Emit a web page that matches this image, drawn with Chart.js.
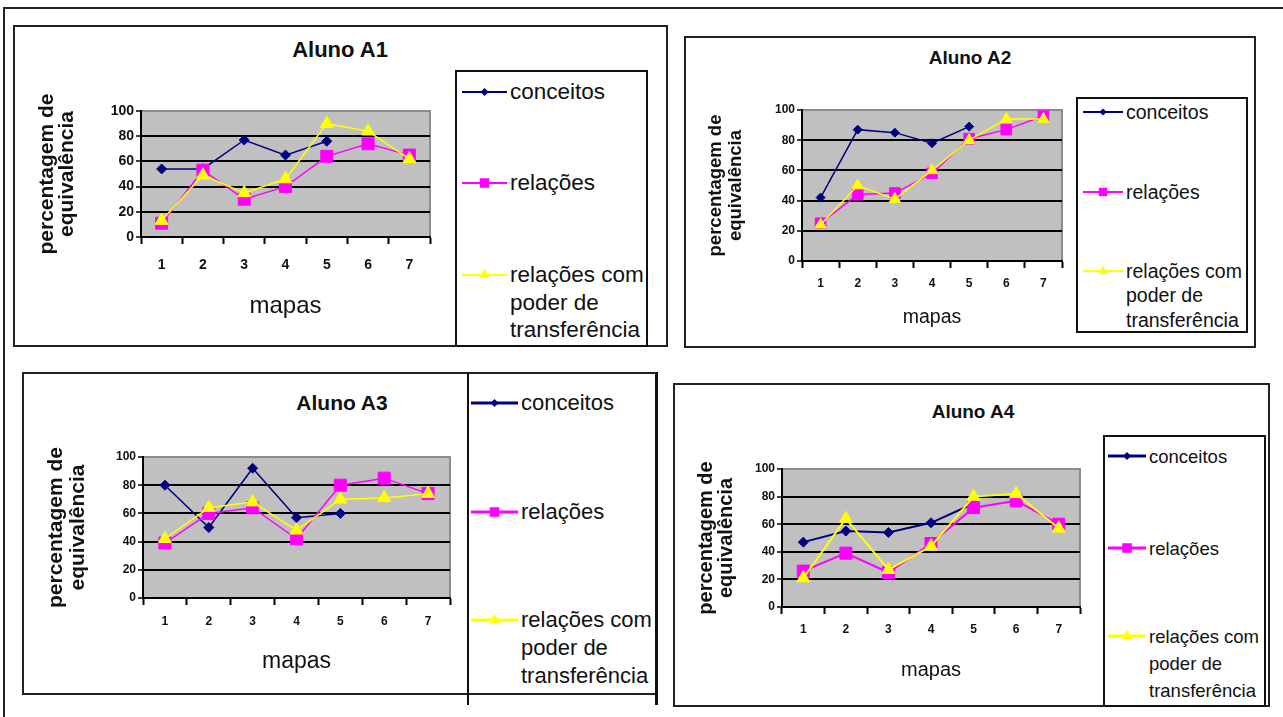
<!DOCTYPE html>
<html lang="pt">
<head>
<meta charset="UTF-8">
<title>Alunos A1-A4</title>
<style>
  body { margin: 0; width: 1283px; height: 717px; background: #fff; position: relative; overflow: hidden;
         font-family: "Liberation Sans", Arial, sans-serif; color: #111; }
  .box { position: absolute; border: 2px solid #222; box-sizing: border-box; }
  .ttl { position: absolute; font-weight: bold; transform: translate(-50%, -50%); white-space: nowrap; }
  .leg { position: absolute; border: 2px solid #111; box-sizing: border-box; background: #fff; }
  .item { position: absolute; white-space: nowrap; }
  .item svg { position: absolute; }
  .vline { position: absolute; background: #111; }
  canvas { position: absolute; }
</style>
</head>
<body>
<div class="box" style="left:3px; top:7px; width:1290px; height:720px;"></div>

<script src="https://cdn.jsdelivr.net/npm/chart.js"></script>
<script>
// data
const mapas = ['1', '2', '3', '4', '5', '6', '7'];
const yTicks = [0, 20, 40, 60, 80, 100];
const seriesNames = ['conceitos', 'relações', 'relações com poder de transferência'];

const a1Conceitos = [54, 54, 77, 65, 76, null, null];
const a1Relacoes = [11, 53, 30, 40, 64, 74, 65];
const a1Transf = [13, 49, 35, 46, 90, 84, 62];

const a2Conceitos = [42, 87, 85, 78, 89, null, null];
const a2Relacoes = [25, 44, 45, 58, 81, 87, 96];
const a2Transf = [24, 50, 41, 60, 80, 94, 94];

const a3Conceitos = [80, 50, 92, 57, 60, null, null];
const a3Relacoes = [39, 60, 64, 42, 80, 85, 74];
const a3Transf = [42, 64, 68, 48, 70, 71, 74];

const a4Conceitos = [47, 55, 54, 61, 75, null, null];
const a4Relacoes = [26, 39, 25, 46, 72, 77, 60];
const a4Transf = [21, 64, 27, 44, 80, 82, 57];

const colors = ['#000080', '#ff00ff', '#ffff00'];
const shapes = ['rectRot', 'rect', 'triangle'];

// layout of each panel (pixels)
const panels = [
  { title: 'Aluno A1', data: [a1Conceitos, a1Relacoes, a1Transf],
    box: [13, 25, 668, 347], titleAt: [340, 50], titleSize: 22,
    plot: [141, 111, 430, 237], yw: 104, xh: 86, tickSize: 14, tickPad: 20,
    axisSize: 21, axisLine: 20, mapasSize: 24,
    radius: [5, 8.5, 7.5], lw: 1.5,
    leg: [455, 70, 648, 347], legX: 462, iconW: 45, legY: [92, 183, 275], legSize: 22.5, legLine: 27.5, iconLw: 2 },
  { title: 'Aluno A2', data: [a2Conceitos, a2Relacoes, a2Transf],
    box: [684, 36, 1256, 348], titleAt: [970, 58], titleSize: 19,
    plot: [802, 110, 1062, 261], yw: 96, xh: 70, tickSize: 12, tickPad: 15,
    axisSize: 18.5, axisLine: 20, mapasSize: 19.5,
    radius: [4.5, 7.5, 6.5], lw: 1.5,
    leg: [1076, 97, 1248, 333], legX: 1083, iconW: 40, legY: [112, 192, 271], legSize: 19.5, legLine: 24.5, iconLw: 2 },
  { title: 'Aluno A3', data: [a3Conceitos, a3Relacoes, a3Transf],
    box: [22, 372, 658, 695], titleAt: [342, 403], titleSize: 21,
    plot: [143, 457, 450, 598], yw: 98, xh: 79, tickSize: 12, tickPad: 16,
    axisSize: 21, axisLine: 22, mapasSize: 23,
    radius: [5, 8.5, 7.5], lw: 1.5,
    leg: null, legX: 471, iconW: 47, legY: [403, 512, 620], legSize: 22, legLine: 28, iconLw: 3 },
  { title: 'Aluno A4', data: [a4Conceitos, a4Relacoes, a4Transf],
    box: [673, 383, 1270, 707], titleAt: [973, 412], titleSize: 19,
    plot: [782, 469, 1080, 607], yw: 86, xh: 77, tickSize: 12, tickPad: 15,
    axisSize: 20, axisLine: 20, mapasSize: 20,
    radius: [5, 8.5, 7.5], lw: 2,
    leg: [1103, 435, 1266, 707], legX: 1108, iconW: 38, legY: [456, 548, 636], legSize: 18.5, legLine: 27, iconLw: 3 }
];

const plotBg = {
  id: 'plotBg',
  beforeDraw(chart) {
    const a = chart.chartArea, c = chart.ctx;
    c.save();
    c.fillStyle = '#c0c0c0';
    c.fillRect(a.left, a.top, a.right - a.left, a.bottom - a.top);
    c.strokeStyle = '#8c8c8c';
    c.lineWidth = 2;
    c.beginPath();
    c.moveTo(a.left, a.top); c.lineTo(a.right, a.top); c.lineTo(a.right, a.bottom);
    c.stroke();
    c.restore();
  }
};

function add(tag, cls, css, html) {
  const el = document.createElement(tag);
  if (cls) el.className = cls;
  el.style.cssText = css;
  if (html !== undefined) el.innerHTML = html;
  document.body.appendChild(el);
  return el;
}

function icon(i, w, lw, r) {
  const h = 20, cy = 10, cx = w / 2;
  let mark = '';
  if (shapes[i] === 'rectRot') mark = `<polygon points="${cx - r},${cy} ${cx},${cy - r} ${cx + r},${cy} ${cx},${cy + r}" fill="${colors[i]}"/>`;
  if (shapes[i] === 'rect') mark = `<rect x="${cx - r * 0.7}" y="${cy - r * 0.7}" width="${r * 1.4}" height="${r * 1.4}" fill="${colors[i]}"/>`;
  if (shapes[i] === 'triangle') mark = `<polygon points="${cx},${cy - r} ${cx + r * 0.87},${cy + r / 2} ${cx - r * 0.87},${cy + r / 2}" fill="${colors[i]}"/>`;
  return `<svg width="${w}" height="${h}" style="left:0;top:${-h / 2}px"><line x1="0" y1="${cy}" x2="${w}" y2="${cy}" stroke="${colors[i]}" stroke-width="${lw}"/>${mark}</svg>`;
}

panels.forEach(p => {
  const [bl, bt, br, bb] = p.box;
  add('div', 'box', `left:${bl}px;top:${bt}px;width:${br - bl}px;height:${bb - bt}px;`);
  add('div', 'ttl', `left:${p.titleAt[0]}px;top:${p.titleAt[1]}px;font-size:${p.titleSize}px;`, p.title);

  if (p.leg) {
    const [ll, lt, lr, lb] = p.leg;
    add('div', 'leg', `left:${ll}px;top:${lt}px;width:${lr - ll}px;height:${lb - lt}px;`);
  } else {
    // A3: legend separated by a vertical rule
    add('div', 'vline', `left:467px;top:${bt}px;width:2px;height:${705 - bt}px;`);
    add('div', 'vline', `left:${br - 3}px;top:${bt}px;width:3px;height:${705 - bt}px;`);
  }
  const textX = p.legX + p.iconW + 3;
  const lines = [['conceitos'], ['relações'], ['relações com', 'poder de', 'transferência']];
  lines.forEach((ls, i) => {
    const y = p.legY[i];
    add('div', 'item', `left:${p.legX}px;top:${y}px;`, icon(i, p.iconW, p.iconLw, p.radius[i] * 0.8));
    add('div', 'item', `left:${textX}px;top:${y - p.legLine / 2}px;font-size:${p.legSize}px;line-height:${p.legLine}px;`,
      ls.join('<br>'));
  });

  // chart canvas
  const [pl, pt, pr, pb] = p.plot;
  const padT = 45, padR = 12;
  const cvLeft = pl - p.yw, cvTop = pt - padT;
  const cvW = p.yw + (pr - pl) + padR, cvH = padT + (pb - pt) + p.xh;
  const cv = add('canvas', '', `left:${cvLeft}px;top:${cvTop}px;width:${cvW}px;height:${cvH}px;`);
  cv.width = cvW; cv.height = cvH;

  const datasets = p.data.map((d, i) => ({
    label: seriesNames[i],
    data: d,
    borderColor: colors[i],
    backgroundColor: colors[i],
    pointBackgroundColor: colors[i],
    pointBorderColor: colors[i],
    pointStyle: shapes[i],
    pointRadius: p.radius[i],
    borderWidth: p.lw,
    pointBorderWidth: 1,
    tension: 0,
    spanGaps: false,
    order: 3 - i
  }));

  new Chart(cv, {
    type: 'line',
    data: { labels: mapas, datasets },
    options: {
      responsive: false,
      animation: false,
      devicePixelRatio: 1,
      layout: { padding: { left: 0, top: padT, right: padR, bottom: 0 } },
      plugins: { legend: { display: false }, tooltip: { enabled: false } },
      scales: {
        x: {
          offset: true,
          grid: { offset: true, drawOnChartArea: false, drawTicks: true, tickLength: 7, color: '#000', tickWidth: 2 },
          border: { color: '#000', width: 2 },
          ticks: { color: '#111', padding: p.tickPad - 7, font: { family: 'Liberation Sans', size: p.tickSize, weight: 'bold' } },
          title: { display: true, text: 'mapas', color: '#111', padding: { top: 0, bottom: 2 },
                   font: { family: 'Liberation Sans', size: p.mapasSize, lineHeight: 1.2 } },
          afterFit(s) { s.height = p.xh; }
        },
        y: {
          min: 0, max: 100,
          afterBuildTicks(s) { s.ticks = yTicks.map(v => ({ value: v })); },
          grid: {
            color: c => (c.tick && (c.tick.value === 0 || c.tick.value === 100)) ? 'rgba(0,0,0,0)' : '#000',
            lineWidth: 2, tickLength: 5, tickColor: '#000', tickWidth: 1.5
          },
          border: { color: '#000', width: 2 },
          ticks: { color: '#111', padding: 2, font: { family: 'Liberation Sans', size: p.tickSize, weight: 'bold' } },
          title: { display: true, text: ['percentagem de', 'equivalência'], color: '#111', padding: 0,
                   font: { family: 'Liberation Sans', size: p.axisSize, weight: 'bold', lineHeight: p.axisLine / p.axisSize } },
          afterFit(s) { s.width = p.yw; }
        }
      }
    },
    plugins: [plotBg]
  });
});
</script>
</body>
</html>
